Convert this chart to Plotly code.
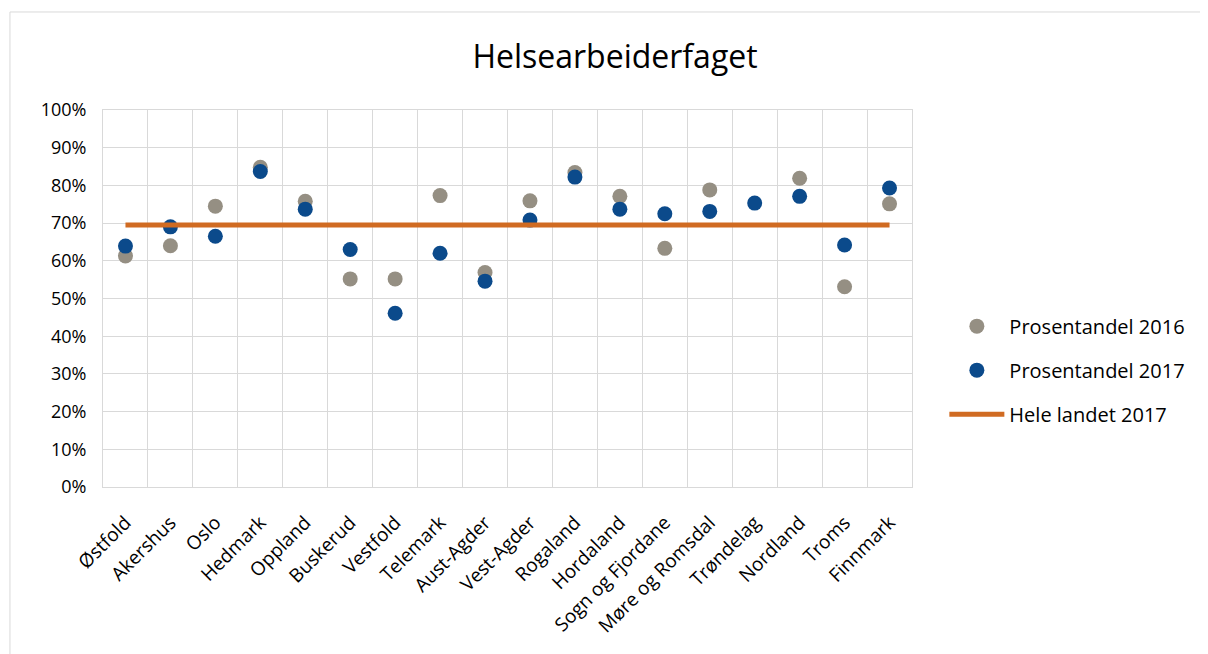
import plotly.graph_objects as go

# Fylker langs x-aksen
fylker = ["Østfold", "Akershus", "Oslo", "Hedmark", "Oppland", "Buskerud",
          "Vestfold", "Telemark", "Aust-Agder", "Vest-Agder", "Rogaland",
          "Hordaland", "Sogn og Fjordane", "Møre og Romsdal", "Trøndelag",
          "Nordland", "Troms", "Finnmark"]

andel_2016 = [0.613, 0.640, 0.745, 0.848, 0.758, 0.552, 0.552, 0.773, 0.569,
              0.759, 0.834, 0.771, 0.633, 0.788, None, 0.819, 0.531, 0.751]
andel_2017 = [0.639, 0.690, 0.665, 0.837, 0.737, 0.630, 0.461, 0.620, 0.546,
              0.708, 0.822, 0.737, 0.725, 0.731, 0.753, 0.771, 0.642, 0.793]
hele_landet_2017 = 0.695

y_ticks = [i / 10 for i in range(11)]

GREY = "#958f83"
BLUE = "#0b4a8b"
ORANGE = "#d06b22"
FONT = "Open Sans"

fig = go.Figure()
fig.add_trace(go.Scatter(
    x=fylker, y=andel_2016, mode="markers", name="Prosentandel 2016",
    marker=dict(size=15, color=GREY), legendgroup="a",
))
fig.add_trace(go.Scatter(
    x=fylker, y=andel_2017, mode="markers", name="Prosentandel 2017",
    marker=dict(size=15, color=BLUE), legendgroup="b",
))
fig.add_trace(go.Scatter(
    x=fylker, y=[hele_landet_2017] * len(fylker), mode="lines",
    name="Hele landet 2017", line=dict(color=ORANGE, width=5),
    legendgroup="c",
))

# grey frame round the whole chart, like the Excel chart area
fig.add_shape(type="rect", xref="paper", yref="paper",
              x0=-0.115, x1=2, y0=-1, y1=1.26,
              line=dict(color="#d9d9d9", width=1), layer="below")

fig.update_layout(
    width=1208, height=654,
    paper_bgcolor="white", plot_bgcolor="white",
    font=dict(family=FONT, size=17, color="#000000"),
    margin=dict(l=95, r=304, t=102, b=175),
    title=dict(text="Helsearbeiderfaget", x=0.5025, xanchor="center",
               y=0.925, yanchor="middle",
               font=dict(family=FONT, size=32, color="#000000")),
    legend=dict(x=1.04, xanchor="left", y=0.31, yanchor="middle",
                font=dict(family=FONT, size=20),
                traceorder="grouped", tracegroupgap=15,
                itemwidth=55, bgcolor="rgba(0,0,0,0)"),
    showlegend=True,
)
fig.update_xaxes(
    type="category", range=[-0.5, len(fylker) - 0.5],
    tickson="boundaries", showgrid=True, gridcolor="#d9d9d9", gridwidth=1,
    showline=True, linecolor="#d9d9d9", mirror=True,
    tickangle=-45, tickfont=dict(size=19), ticks="", ticklabelstandoff=16,
)
fig.update_yaxes(
    range=[0, 1], tickvals=y_ticks, tickformat=".0%",
    showgrid=True, gridcolor="#d9d9d9", gridwidth=1,
    showline=True, linecolor="#d9d9d9", mirror=True,
    zeroline=False, ticks="", ticklabelstandoff=12,
    tickfont=dict(size=18),
)

fig.write_html("out.html")
